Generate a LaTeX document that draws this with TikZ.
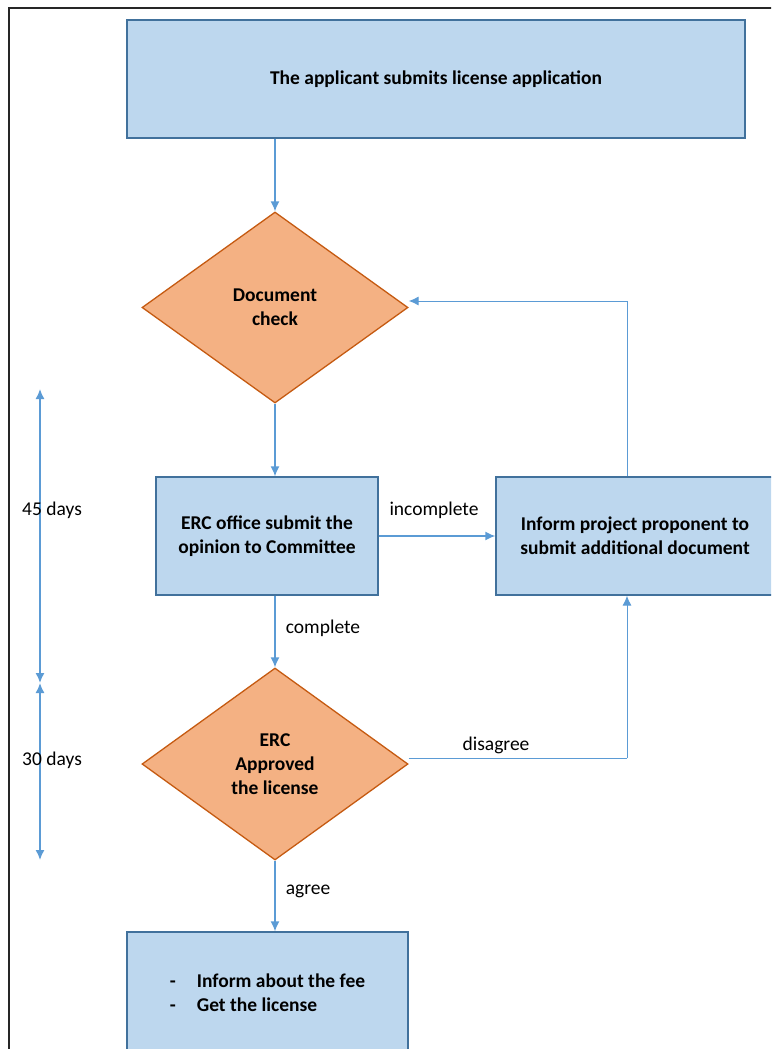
\documentclass[tikz,border=0pt]{standalone}
\usepackage{fontspec}
\setmainfont{Carlito}
\usetikzlibrary{shapes.geometric,arrows.meta}
\definecolor{boxfill}{HTML}{BDD7EE}
\definecolor{boxline}{HTML}{41719C}
\definecolor{decfill}{HTML}{F4B183}
\definecolor{decline}{HTML}{C55A11}
\definecolor{flow}{HTML}{5B9BD5}
\begin{document}
\begin{tikzpicture}[x=1pt,y=-1pt,
  stepbox/.style={draw=boxline, fill=boxfill, line width=1.3pt, inner sep=0pt,
    font=\bfseries\fontsize{19.5}{24}\selectfont, align=center},
  decision/.style={diamond, draw=decline, fill=decfill, line width=1.3pt, inner sep=0pt,
    font=\bfseries\fontsize{19.5}{24}\selectfont, align=center},
  flowarrow/.style={draw=flow, line width=1.5pt, -{Latex[length=10pt,width=9pt]}},
  thinflow/.style={draw=flow, line width=0.9pt},
  span/.style={draw=flow, line width=1.5pt, {Latex[length=10pt,width=9pt]}-{Latex[length=10pt,width=9pt]}},
  lbl/.style={font=\fontsize{19.5}{24}\selectfont, inner sep=0pt}]
\useasboundingbox (0,0) rectangle (771,1049);
\clip (0,0) rectangle (771,1049);

% outer frame
\draw[line width=2pt, black!85] (9,1070) -- (9,8) -- (790,8);

% process steps
\node[stepbox, minimum width=618pt, minimum height=118pt] (apply) at (436,79)
  {The applicant submits license application};
\node[decision, minimum width=266pt, minimum height=191pt] (check) at (275,307.5)
  {Document\\check};
\node[stepbox, minimum width=222pt, minimum height=118pt] (opinion) at (267,536)
  {ERC office submit the\\opinion to Committee};
\node[stepbox, minimum width=278pt, minimum height=118pt] (inform) at (635,536)
  {Inform project proponent to\\submit additional document};
\node[decision, minimum width=266pt, minimum height=192pt] (approve) at (275,764)
  {ERC\\Approved\\the license};
\node[stepbox, minimum width=281pt, minimum height=122pt, align=left] (fee) at (267.5,993)
  {\makebox[27pt][l]{-}Inform about the fee\\\makebox[27pt][l]{-}Get the license};

% connectors
\draw[flowarrow] (apply.south -| check.north) -- (check.north);
\draw[flowarrow] (check.south) -- (check.south |- opinion.north);
\draw[flowarrow] (opinion.east) -- (inform.west);
\draw[flowarrow] (opinion.south -| approve.north) -- (approve.north);
\draw[flowarrow] (approve.south) -- (approve.south |- fee.north);

\coordinate (loop) at (627,301);
\draw[thinflow] (inform.north -| loop) -- (loop);
\draw[flowarrow, line width=1pt] (loop) -- (check.east |- loop);

\coordinate (back) at (627,758);
\draw[thinflow] (approve.east |- back) -- (back);
\draw[flowarrow, line width=1pt] (back) -- (inform.south -| back);

% connector labels
\node[lbl] (lincomplete) at (434,510) {incomplete};
\node[lbl] (lcomplete) at (323,628) {complete};
\node[lbl] (ldisagree) at (496,745) {disagree};
\node[lbl] (lagree) at (308,891) {agree};

% time spans
\coordinate (t1) at (40,389);
\coordinate (t2) at (40,683);
\coordinate (t3) at (40,860);
\draw[span] (t1) -- (t2);
\draw[span] (t2) -- (t3);
\node[lbl, anchor=west] (d45) at (22,510) {45 days};
\node[lbl, anchor=west] (d30) at (22,760) {30 days};
\end{tikzpicture}
\end{document}
